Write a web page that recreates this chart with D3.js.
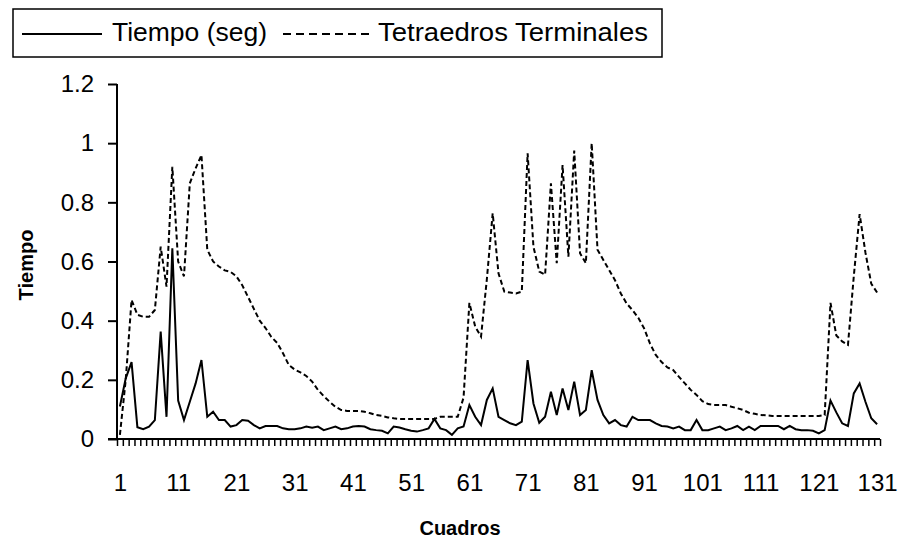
<!DOCTYPE html>
<html>
<head>
<meta charset="utf-8">
<script src="https://cdn.jsdelivr.net/npm/d3@7/dist/d3.min.js"></script>
<style>
  html, body { margin: 0; padding: 0; background: #fff; }
  svg { display: block; }
  text { font-family: Arial, "Liberation Sans", sans-serif; fill: #000; }
</style>
</head>
<body>
<svg id="chart" width="901" height="545"></svg>
<script>
// ---- data ----
const seriesNames = ["Tiempo (seg)", "Tetraedros Terminales"];
const categories = d3.range(1, 132); // Cuadros 1..131
const xTickLabels = [1, 11, 21, 31, 41, 51, 61, 71, 81, 91, 101, 111, 121, 131];
const yTickValues = [0, 0.2, 0.4, 0.6, 0.8, 1, 1.2];
const xTitle = "Cuadros";
const yTitle = "Tiempo";

const tiempo = [
  0.11, 0.205, 0.26, 0.04, 0.033, 0.042, 0.064, 0.363, 0.075, 0.645,
  0.13, 0.064, 0.126, 0.188, 0.267, 0.075, 0.092, 0.064, 0.064, 0.042,
  0.047, 0.064, 0.062, 0.047, 0.036, 0.044, 0.044, 0.044, 0.036, 0.033,
  0.033, 0.036, 0.042, 0.038, 0.042, 0.03, 0.036, 0.042, 0.033, 0.036,
  0.042, 0.044, 0.042, 0.033, 0.03, 0.028, 0.019, 0.042, 0.039, 0.033,
  0.028, 0.025, 0.03, 0.036, 0.068, 0.036, 0.03, 0.014, 0.036, 0.042,
  0.115, 0.075, 0.047, 0.132, 0.171, 0.075, 0.064, 0.053, 0.047, 0.059,
  0.267, 0.12, 0.055, 0.075, 0.16, 0.081, 0.171, 0.098, 0.194, 0.081,
  0.098, 0.233, 0.132, 0.081, 0.053, 0.064, 0.047, 0.042, 0.075, 0.064,
  0.064, 0.064, 0.053, 0.044, 0.042, 0.036, 0.042, 0.03, 0.03, 0.064,
  0.03, 0.03, 0.036, 0.042, 0.03, 0.036, 0.044, 0.03, 0.042, 0.03,
  0.044, 0.044, 0.044, 0.044, 0.033, 0.044, 0.033, 0.03, 0.03, 0.028,
  0.019, 0.03, 0.13, 0.09, 0.053, 0.044, 0.154, 0.188, 0.126, 0.07,
  0.05
];

const tetraedros = [
  0.014, 0.2, 0.47, 0.42, 0.413, 0.413, 0.436, 0.65, 0.515, 0.92,
  0.6, 0.55, 0.864, 0.915, 0.96, 0.64, 0.6, 0.583, 0.57, 0.565,
  0.55, 0.52, 0.48, 0.44, 0.40, 0.375, 0.345, 0.325, 0.29, 0.25,
  0.235, 0.225, 0.213, 0.194, 0.166, 0.145, 0.126, 0.109, 0.098, 0.095,
  0.095, 0.095, 0.092, 0.087, 0.081, 0.078, 0.073, 0.07, 0.068, 0.068,
  0.068, 0.068, 0.068, 0.068, 0.068, 0.075, 0.075, 0.075, 0.075, 0.14,
  0.46, 0.38, 0.346, 0.54, 0.763, 0.56, 0.498, 0.495, 0.492, 0.498,
  0.966, 0.65, 0.566, 0.555, 0.864, 0.594, 0.926, 0.616, 0.975, 0.628,
  0.594, 1.0, 0.64, 0.605, 0.571, 0.537, 0.492, 0.458, 0.436, 0.41,
  0.374, 0.323, 0.284, 0.26, 0.242, 0.233, 0.21, 0.188, 0.166, 0.149,
  0.128, 0.118, 0.115, 0.115, 0.115, 0.109, 0.104, 0.098, 0.089, 0.085,
  0.081, 0.08, 0.078, 0.078, 0.078, 0.078, 0.078, 0.078, 0.078, 0.078,
  0.078, 0.081, 0.46, 0.35, 0.33, 0.318, 0.55, 0.76, 0.63, 0.525,
  0.495
];

// ---- layout ----
const svg = d3.select("#chart");
const mLeft = 117, mRight = 880, mTop = 84, mBottom = 439;

const x = d3.scaleLinear().domain([0.5, categories.length + 0.5]).range([mLeft, mRight]);
const y = d3.scaleLinear().domain([0, 1.2]).range([mBottom, mTop]);

svg.append("rect").attr("width", 901).attr("height", 545).attr("fill", "#fff");

// lines
const line = d3.line().x((d, i) => x(categories[i])).y(d => y(d));

svg.append("path").datum(tetraedros)
  .attr("d", line).attr("fill", "none").attr("stroke", "#000")
  .attr("stroke-width", 2).attr("stroke-dasharray", "5,3");

svg.append("path").datum(tiempo)
  .attr("d", line).attr("fill", "none").attr("stroke", "#000")
  .attr("stroke-width", 2);

// y axis
const yAxis = svg.append("g").attr("transform", `translate(${mLeft},0)`)
  .call(d3.axisLeft(y).tickValues(yTickValues).tickSize(9).tickPadding(14)
    .tickFormat(d => String(+d.toFixed(1))));
yAxis.select(".domain").attr("stroke-width", 2).attr("d", `M0,${mTop}V${mBottom}`);
yAxis.selectAll(".tick line").attr("stroke-width", 2);
yAxis.selectAll("text").attr("font-size", 24).attr("font-family", "Arial, 'Liberation Sans', sans-serif");

// x axis: tick marks at category boundaries
const boundaries = d3.range(0, categories.length + 1).map(k => k + 0.5);
const xAxisTicks = svg.append("g").attr("transform", `translate(0,${mBottom})`)
  .call(d3.axisBottom(x).tickValues(boundaries).tickSize(7).tickFormat(""));
xAxisTicks.select(".domain").attr("stroke-width", 2).attr("d", `M${mLeft - 9},0H${mRight}`);
xAxisTicks.selectAll(".tick line").attr("stroke-width", 1.5);

// x labels at category centers
const xAxisLabels = svg.append("g").attr("transform", `translate(0,${mBottom})`)
  .call(d3.axisBottom(x).tickValues(xTickLabels).tickSize(0).tickPadding(35).tickFormat(d3.format("d")));
xAxisLabels.select(".domain").remove();
xAxisLabels.selectAll("text").attr("font-size", 24).attr("font-family", "Arial, 'Liberation Sans', sans-serif");

// axis titles
svg.append("text").attr("x", 460).attr("y", 535).attr("text-anchor", "middle")
  .attr("font-size", 20).attr("font-weight", "bold").text(xTitle);
svg.append("text").attr("transform", "translate(33,265) rotate(-90)").attr("text-anchor", "middle")
  .attr("font-size", 20).attr("font-weight", "bold").text(yTitle);

// legend
const lg = svg.append("g");
lg.append("rect").attr("x", 13).attr("y", 9).attr("width", 649).attr("height", 48)
  .attr("fill", "#fff").attr("stroke", "#000").attr("stroke-width", 1.5);
lg.append("line").attr("x1", 22).attr("x2", 102).attr("y1", 34).attr("y2", 34)
  .attr("stroke", "#000").attr("stroke-width", 2);
lg.append("text").attr("x", 112).attr("y", 41).attr("font-size", 26)
  .attr("textLength", 155).attr("lengthAdjust", "spacingAndGlyphs").text(seriesNames[0]);
lg.append("line").attr("x1", 283).attr("x2", 373).attr("y1", 34).attr("y2", 34)
  .attr("stroke", "#000").attr("stroke-width", 2).attr("stroke-dasharray", "8,5");
lg.append("text").attr("x", 378).attr("y", 41).attr("font-size", 26)
  .attr("textLength", 270).attr("lengthAdjust", "spacingAndGlyphs").text(seriesNames[1]);
</script>
</body>
</html>
